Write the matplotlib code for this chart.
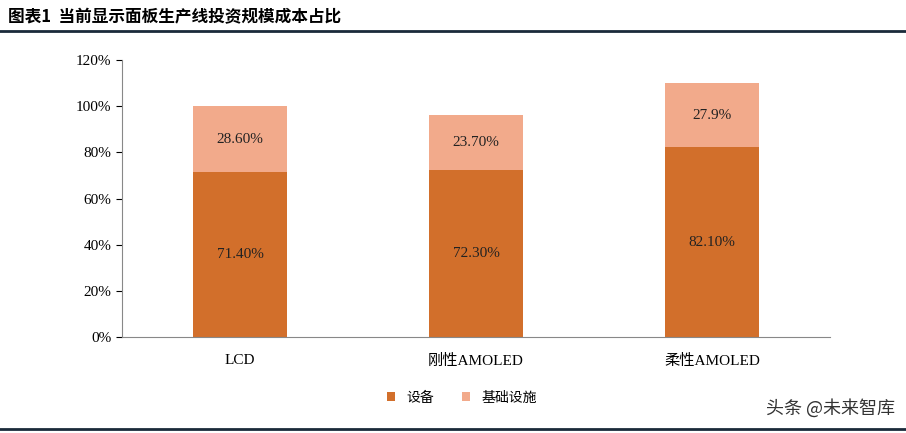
import matplotlib
matplotlib.use("Agg")
import matplotlib.pyplot as plt

categories = ["LCD", "刚性AMOLED", "柔性AMOLED"]
equipment = [71.4, 72.3, 82.1]
infra = [28.6, 23.7, 27.9]
equip_labels = ["71.40%", "72.30%", "82.10%"]
infra_labels = ["28.60%", "23.70%", "27.9%"]
yticks = [0, 20, 40, 60, 80, 100, 120]

fam = ["Liberation Serif", "Noto Sans CJK SC"]
plt.rcParams['font.family'] = fam

fig = plt.figure(figsize=(9.06, 4.33), dpi=100)
ax = fig.add_axes([122/906, 1-337/433, 708/906, 277/433])
c1, c2 = "#D26F2B", "#F2AA8B"
x = range(len(categories))
ax.bar(x, equipment, width=0.4, color=c1, label="设备")
ax.bar(x, infra, width=0.4, bottom=equipment, color=c2, label="基础设施")
for i in x:
    ax.text(i, equipment[i]/2, equip_labels[i], ha="center", va="center", fontsize=11, color="#222222")
    ax.text(i, equipment[i]+infra[i]/2, infra_labels[i], ha="center", va="center", fontsize=11, color="#222222")
ax.set_xlim(-0.5, 2.5)
ax.set_ylim(0, 120)
ax.set_yticks(yticks)
ax.set_yticklabels([f"{v}%" for v in yticks], fontsize=11)
ax.set_xticks(list(x))
ax.set_xticklabels(categories, fontsize=11)
ax.tick_params(axis="x", length=0, pad=12)
ax.tick_params(axis="y", direction="out", length=4)
for s in ["top", "right"]:
    ax.spines[s].set_visible(False)
ax.spines["left"].set_color("#888888")
ax.spines["bottom"].set_color("#888888")
ax.legend(loc="center", bbox_to_anchor=(0.48, -0.22), ncol=2, frameon=False, fontsize=10,
          handlelength=0.6, handleheight=0.6, columnspacing=2)

fig.text(8/906, 1-17/433, "图表1  当前显示面板生产线投资规模成本占比", fontsize=12, fontweight="bold",
         va="center", family=["Noto Sans CJK SC"])
fig.add_artist(plt.Line2D([0, 1], [1-31/433]*2, color="#1a2a3a", lw=2))
fig.add_artist(plt.Line2D([0, 1], [1-429/433]*2, color="#1a2a3a", lw=2))
fig.text(895/906, 1-408/433, "头条 @未来智库", fontsize=13, ha="right", va="center",
         family=["Noto Sans CJK SC"], color="#333333")
fig.savefig("out.png", dpi=100)
